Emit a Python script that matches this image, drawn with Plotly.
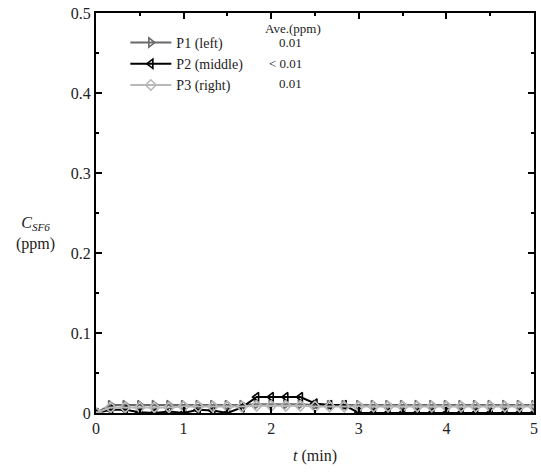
import plotly.graph_objects as go

# time in minutes, 10 s sampling
t = [i / 6 for i in range(31)]

p1_left = [0.0, 0.010, 0.010, 0.010, 0.010, 0.010, 0.010, 0.010, 0.010, 0.010,
           0.010, 0.011, 0.011, 0.011, 0.011, 0.010, 0.010, 0.010, 0.010, 0.010,
           0.010, 0.010, 0.010, 0.010, 0.010, 0.010, 0.010, 0.010, 0.010, 0.010, 0.010]
p2_middle = [0.0, 0.004, 0.004, 0.001, 0.0, 0.002, 0.0, 0.004, 0.003, 0.0,
             0.007, 0.020, 0.020, 0.020, 0.020, 0.012, 0.010, 0.010, 0.0, 0.0,
             0.0, 0.0, 0.0, 0.0, 0.0, 0.0, 0.0, 0.0, 0.0, 0.0, 0.0]
p3_right = [0.0, 0.007, 0.007, 0.007, 0.007, 0.007, 0.008, 0.008, 0.008, 0.008,
            0.008, 0.009, 0.009, 0.009, 0.009, 0.008, 0.008, 0.008, 0.008, 0.008,
            0.008, 0.008, 0.008, 0.008, 0.008, 0.008, 0.008, 0.008, 0.008, 0.008, 0.008]

names = ["P1 (left)", "P2 (middle)", "P3 (right)"]
averages = ["0.01", "< 0.01", "0.01"]
x_ticks = [0, 1, 2, 3, 4, 5]
y_ticks = [0, 0.1, 0.2, 0.3, 0.4, 0.5]
y_tick_text = ["0", "0.1", "0.2", "0.3", "0.4", "0.5"]

SERIF = "Liberation Serif, Times New Roman, serif"

fig = go.Figure()
styles = [
    dict(color="#6a6a6a", symbol="triangle-right-open"),
    dict(color="#000000", symbol="triangle-left-open"),
    dict(color="#b8b8b8", symbol="diamond-open"),
]
for name, ys, st in zip(names, [p1_left, p2_middle, p3_right], styles):
    fig.add_trace(go.Scatter(
        x=t, y=ys, name=name, mode="lines+markers",
        line=dict(color=st["color"], width=2),
        marker=dict(symbol=st["symbol"], size=8, color=st["color"],
                    line=dict(width=1.6, color=st["color"])),
    ))

axis_common = dict(
    showline=True, linecolor="black", linewidth=2, mirror="ticks",
    ticks="inside", ticklen=6, tickwidth=1.5, tickcolor="black",
    showgrid=False, zeroline=False, ticklabeloverflow="allow",
    tickfont=dict(family=SERIF, size=16, color="#222"),
)
fig.update_xaxes(range=[0, 5], tickvals=x_ticks,
                 minor=dict(ticks="inside", ticklen=3, dtick=0.5, tickcolor="black"),
                 **axis_common)
fig.update_yaxes(range=[0, 0.5], tickvals=y_ticks, ticktext=y_tick_text,
                 minor=dict(ticks="inside", ticklen=3, dtick=0.05, tickcolor="black"),
                 **axis_common)

annotations = [
    dict(text="<i>t</i> (min)", xref="paper", yref="paper", x=0.5, y=-0.08,
         xanchor="center", yanchor="top", showarrow=False,
         font=dict(family=SERIF, size=16, color="#222")),
    dict(text="<i>C</i><sub><i>SF6</i></sub><br>(ppm)", xref="paper", yref="paper",
         x=-0.138, y=0.45, xanchor="center", yanchor="middle", showarrow=False,
         font=dict(family=SERIF, size=16, color="#222")),
    dict(text="Ave.(ppm)", xref="paper", yref="paper", x=0.45, y=0.962,
         xanchor="center", yanchor="middle", showarrow=False,
         font=dict(family=SERIF, size=13, color="#222")),
]
for i, a in enumerate(averages):
    annotations.append(dict(text=a, xref="paper", yref="paper", x=0.475,
                            y=0.925 - i * 0.051, xanchor="right", yanchor="middle",
                            showarrow=False,
                            font=dict(family=SERIF, size=13, color="#222")))

fig.update_layout(
    width=541, height=473,
    margin=dict(l=96, r=3, t=13, b=60),
    paper_bgcolor="white", plot_bgcolor="white",
    showlegend=True,
    legend=dict(x=0.067, y=0.965, xanchor="left", yanchor="top",
                bgcolor="rgba(0,0,0,0)", tracegroupgap=0, itemwidth=41,
                font=dict(family=SERIF, size=14, color="#222")),
    annotations=annotations,
)

fig.write_html("out.html",
               config={"displayModeBar": False},
               post_script="document.body.style.margin='0px';document.body.style.overflow='hidden';")
